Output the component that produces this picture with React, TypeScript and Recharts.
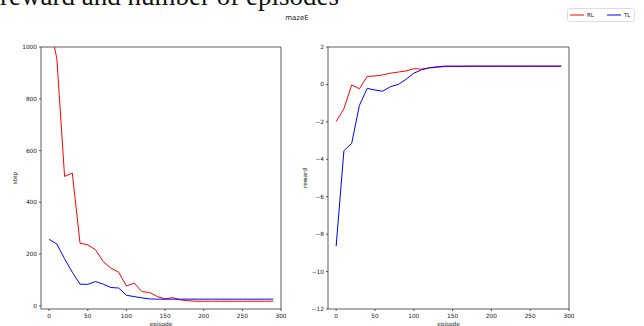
import React from "react"
import { LineChart, Line, XAxis, YAxis, ReferenceArea, Label } from "recharts"

const episodes = [0, 10, 20, 30, 40, 50, 60, 70, 80, 90, 100, 110, 120, 130, 140, 150, 160, 170, 180, 190, 200, 210, 220, 230, 240, 250, 260, 270, 280, 290]

// steps per episode
const stepRL = [1100, 955, 500, 513, 242, 236, 217, 171, 146, 130, 77, 88, 55, 52, 36, 27, 32, 23, 20, 18, 18, 18, 18, 18, 18, 18, 18, 18, 18, 18]
const stepTL = [257, 239, 182, 130, 84, 83, 94, 84, 71, 69, 41, 36, 31, 27, 26, 26, 26, 26, 26, 26, 26, 26, 26, 26, 26, 26, 26, 26, 26, 26]

// reward per episode
const rewardRL = [-1.98, -1.3, -0.03, -0.23, 0.43, 0.45, 0.51, 0.6, 0.66, 0.72, 0.84, 0.82, 0.88, 0.92, 0.95, 0.96, 0.95, 0.97, 0.97, 0.97, 0.97, 0.97, 0.97, 0.97, 0.97, 0.97, 0.97, 0.97, 0.97, 0.97]
const rewardTL = [-8.64, -3.54, -3.15, -1.12, -0.21, -0.3, -0.36, -0.12, 0.0, 0.27, 0.6, 0.78, 0.89, 0.94, 0.98, 0.98, 0.98, 0.98, 0.98, 0.98, 0.98, 0.98, 0.98, 0.98, 0.98, 0.98, 0.98, 0.98, 0.98, 0.98]

const episodeTicks = [0, 50, 100, 150, 200, 250, 300]
const stepTicks = [0, 200, 400, 600, 800, 1000]
const rewardTicks = [-12, -10, -8, -6, -4, -2, 0, 2]

const seriesNames = ["RL", "TL"]
const seriesColors = ["#ff0000", "#0000ff"]

const FONT = "DejaVu Sans"
const X_DOMAIN: [number, number] = [-10.5, 300]
const STEP_DOMAIN: [number, number] = [-12, 1000]
const REWARD_DOMAIN: [number, number] = [-12, 2]

const stepData = episodes.map((e, i) => ({ episode: e, RL: stepRL[i], TL: stepTL[i] }))
const rewardData = episodes.map((e, i) => ({ episode: e, RL: rewardRL[i], TL: rewardTL[i] }))

const tickStyle = { fontSize: 5.8, fill: "#1a1a1a", fontFamily: FONT }
const labelStyle = { fontSize: 5.8, fill: "#1a1a1a", fontFamily: FONT, textAnchor: "middle" as const }
const minus = (v: number) => String(v).replace("-", "\u2212")

function Panel({ data, yDomain, yTicks, yLabel, yWidth, labelOffset, width, right }: any) {
  return (
    <LineChart
      width={width}
      height={326}
      data={data}
      margin={{ top: 47, right, bottom: 0, left: 0 }}
    >
      <XAxis
        dataKey="episode"
        type="number"
        domain={X_DOMAIN}
        ticks={episodeTicks}
        tick={tickStyle}
        tickSize={2}
        tickMargin={3}
        tickLine={{ stroke: "#333", strokeWidth: 0.8 }}
        axisLine={false}
        height={17}
        allowDataOverflow
      >
        <Label value="episode" position="insideBottom" offset={0} style={labelStyle} />
      </XAxis>
      <YAxis
        type="number"
        domain={yDomain}
        ticks={yTicks}
        tick={tickStyle}
        tickFormatter={minus}
        tickSize={2}
        tickMargin={2}
        tickLine={{ stroke: "#333", strokeWidth: 0.8 }}
        axisLine={false}
        width={yWidth}
        allowDataOverflow
      >
        <Label value={yLabel} angle={-90} position="insideLeft" offset={labelOffset} style={labelStyle} />
      </YAxis>
      <ReferenceArea
        x1={X_DOMAIN[0]}
        x2={X_DOMAIN[1]}
        y1={yDomain[0]}
        y2={yDomain[1]}
        fill="none"
        stroke="#333"
        strokeWidth={0.8}
      />
      {seriesNames.map((name, i) => (
        <Line
          key={name}
          type="linear"
          dataKey={name}
          stroke={seriesColors[i]}
          strokeWidth={1}
          dot={false}
          isAnimationActive={false}
        />
      ))}
    </LineChart>
  )
}

export default function App() {
  return (
    <div style={{ position: "absolute", left: 0, top: 0, width: 644, height: 326, overflow: "hidden", background: "#fff" }}>
      <svg width={644} height={30} style={{ position: "absolute", left: 0, top: 0 }}>
        <text x={0} y={5} fontFamily="Liberation Serif" fontSize={27} fill="#111">
          reward and number of episodes
        </text>
        <text x={297} y={20} textAnchor="middle" fontFamily={FONT} fontSize={7} fill="#222">
          mazeE
        </text>
      </svg>
      <div style={{ position: "absolute", left: 0, top: 0 }}>
        <Panel data={stepData} yDomain={STEP_DOMAIN} yTicks={stepTicks} yLabel="step" yWidth={41} labelOffset={15} width={300} right={19} />
      </div>
      <div style={{ position: "absolute", left: 300, top: 0 }}>
        <Panel data={rewardData} yDomain={REWARD_DOMAIN} yTicks={rewardTicks} yLabel="reward" yWidth={28} labelOffset={5} width={344} right={75} />
      </div>
      <svg width={68} height={14} style={{ position: "absolute", left: 567, top: 8 }}>
        <rect x={0.5} y={0.5} width={67} height={13} rx={2} fill="#fff" stroke="#ddd" strokeWidth={1} />
        {seriesNames.map((name, i) => (
          <g key={name} transform={`translate(${3 + i * 37}, 0)`}>
            <line x1={0} x2={14} y1={7} y2={7} stroke={seriesColors[i]} strokeWidth={1} />
            <text x={17} y={9} fontFamily={FONT} fontSize={5.5} fill="#1a1a1a">
              {name}
            </text>
          </g>
        ))}
      </svg>
    </div>
  )
}
